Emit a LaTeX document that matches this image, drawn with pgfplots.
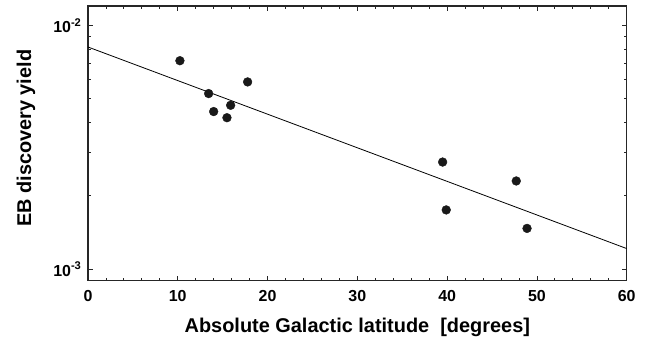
\documentclass[border=0pt]{standalone}
\usepackage{pgfplots}
\pgfplotsset{compat=1.18}
\usepackage{fontspec}
\setmainfont{Liberation Sans}
\begin{document}
\begin{tikzpicture}[x=1bp,y=1bp]
\begin{axis}[
  name=ax,
  scale only axis,
  width=539bp, height=274.7bp,
  xmin=0, xmax=60,
  ymode=log, ymin=0.000898, ymax=0.0120,
  xtick={0,10,...,60},
  minor x tick num=4,
  ytick={0.001,0.01},
  yticklabels={10\textsuperscript{-3},10\textsuperscript{-2}},
  minor ytick={0.002,0.003,0.004,0.005,0.006,0.007,0.008,0.009},
  major tick length=5bp, minor tick length=3bp,
  tick style={black!85, line width=0.8bp},
  axis line style={black!85, line width=1.2bp},
  /pgf/number format/assume math mode=true,
  ticklabel style={font=\fontsize{16}{18}\selectfont\bfseries},
  xticklabel style={yshift=-6bp},
  yticklabel style={xshift=-3bp},
  xlabel={Absolute Galactic latitude\ \ [degrees]},
  ylabel={EB discovery yield},
  label style={font=\fontsize{20}{22}\selectfont\bfseries},
  xlabel style={at={(axis description cs:0.5,0)}, anchor=base, yshift=-52bp},
  ylabel style={at={(axis description cs:0,0.5)}, anchor=center, yshift=62bp, xshift=5bp},
  clip=true,
]
\addplot[only marks, mark=*, mark size=4.4bp, black!90, mark options={fill=black!90}] coordinates {
(10.24,0.00716) (13.44,0.00525) (14.0,0.00443) (15.48,0.00418) (15.89,0.00470)
(17.78,0.00586) (39.5,0.00275) (39.9,0.00175) (47.7,0.00230) (48.9,0.00147)
};
\addplot[black, line width=0.8bp] coordinates {(0,0.00815) (60,0.001215)};
\end{axis}
\pgfresetboundingbox
\path[use as bounding box] ([xshift=-88bp,yshift=-62.3bp]ax.south west) rectangle ([xshift=18.3bp,yshift=6bp]ax.north east);
\end{tikzpicture}
\end{document}
